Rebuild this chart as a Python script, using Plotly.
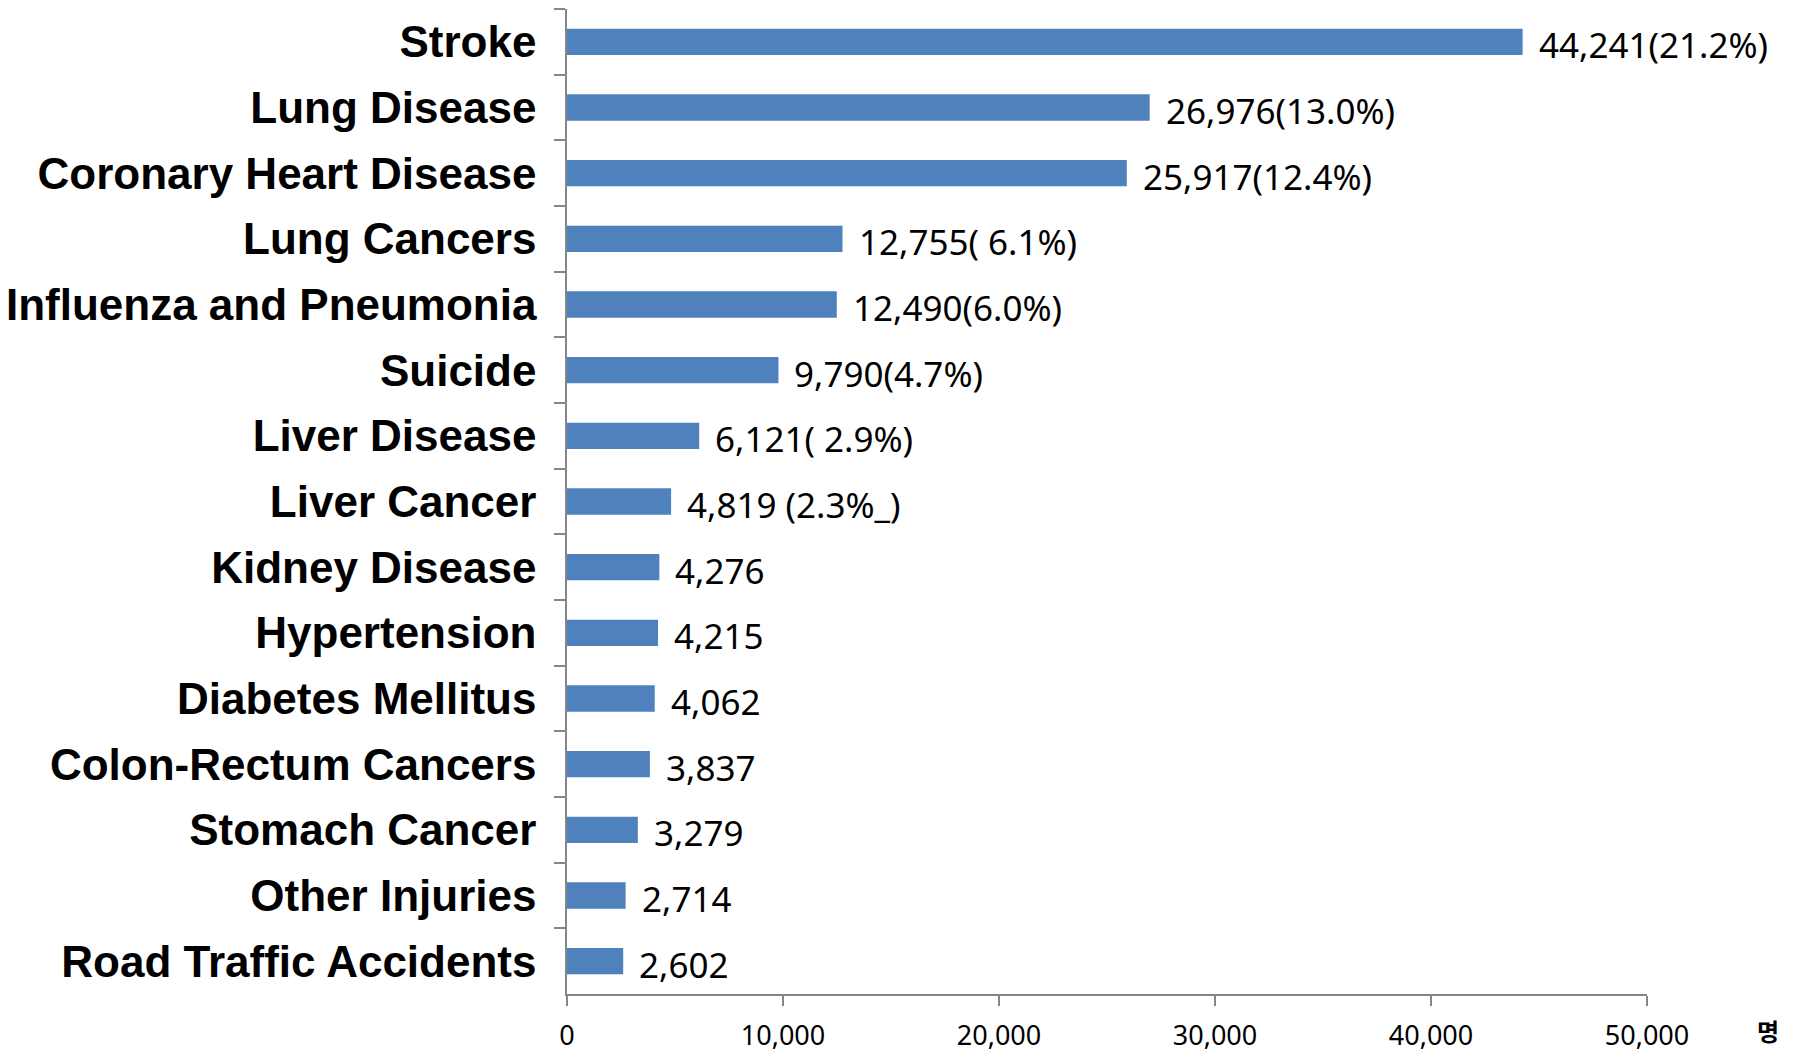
import plotly.graph_objects as go

causes = [
    "Stroke", "Lung Disease", "Coronary Heart Disease", "Lung Cancers",
    "Influenza and Pneumonia", "Suicide", "Liver Disease", "Liver Cancer",
    "Kidney Disease", "Hypertension", "Diabetes Mellitus", "Colon-Rectum Cancers",
    "Stomach Cancer", "Other Injuries", "Road Traffic Accidents",
]
deaths = [44241, 26976, 25917, 12755, 12490, 9790, 6121, 4819,
          4276, 4215, 4062, 3837, 3279, 2714, 2602]
value_labels = [
    "44,241(21.2%)", "26,976(13.0%)", "25,917(12.4%)", "12,755( 6.1%)",
    "12,490(6.0%)", "9,790(4.7%)", "6,121( 2.9%)", "4,819 (2.3%_)",
    "4,276", "4,215", "4,062", "3,837", "3,279", "2,714", "2,602",
]
x_ticks = [0, 10000, 20000, 30000, 40000, 50000]
x_tick_text = ["0", "10,000", "20,000", "30,000", "40,000", "50,000"]
unit_label = "명"

AXIS = "#868686"
BAR = "#4F81BD"
W, H = 1796, 1052
L, R, T, B = 567, 149, 9, 58

fig = go.Figure()
fig.add_trace(go.Bar(
    y=causes, x=deaths, orientation="h",
    marker=dict(color=BAR, line=dict(width=0)),
    width=0.4, hoverinfo="x+y", showlegend=False,
))

for c, v, t in zip(causes, deaths, value_labels):
    fig.add_annotation(
        x=v, y=c, xref="x", yref="y", text=t, showarrow=False,
        xanchor="left", yanchor="middle", xshift=14, yshift=-3,
        font=dict(family="Noto Sans, Open Sans, sans-serif", size=35, color="#000000"),
    )

pw = W - L - R
ph = H - T - B
fig.add_annotation(
    x=(1768 - L) / pw, y=(H - B - 1030) / ph, xref="paper", yref="paper",
    text=unit_label, showarrow=False, xanchor="center", yanchor="middle",
    font=dict(family="Noto Sans CJK KR, sans-serif", size=24, color="#000000", weight="bold"),
)

fig.update_layout(
    width=W, height=H,
    margin=dict(l=L, r=R, t=T, b=B, pad=0, autoexpand=False),
    paper_bgcolor="white", plot_bgcolor="white",
    bargap=0.6,
)
fig.update_yaxes(
    type="category", categoryorder="array", categoryarray=causes,
    autorange="reversed", automargin=False,
    showline=True, linecolor=AXIS, linewidth=1.5,
    ticks="outside", tickson="boundaries", ticklen=11, tickcolor=AXIS, tickwidth=1.5,
    showgrid=False, zeroline=False,
    tickfont=dict(family="Liberation Sans, Arial, sans-serif",
                  size=44, color="#000000", weight="bold"),
    ticklabelstandoff=20,
)
fig.update_xaxes(
    range=[0, 50000], tickvals=x_ticks, ticktext=x_tick_text, automargin=False,
    showline=True, linecolor=AXIS, linewidth=1.5,
    ticks="outside", ticklen=10, tickcolor=AXIS, tickwidth=1.5,
    showgrid=False, zeroline=False,
    tickfont=dict(family="Noto Sans, sans-serif", size=27, color="#000000"),
    ticklabelstandoff=7,
)

fig.write_html("out.html")
